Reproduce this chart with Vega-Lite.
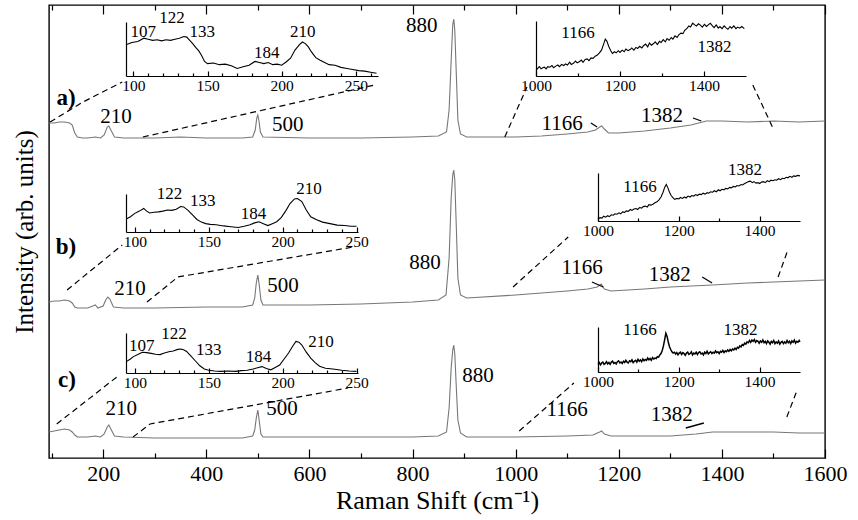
{
"$schema":"https://vega.github.io/schema/vega-lite/v6.json",
"width":776,"height":453,
"autosize":{"type":"none"},
"padding":{"left":49,"top":5,"right":33,"bottom":62},
"background":"white",
"config":{"view":{"stroke":"black","strokeWidth":1.4},"font":"Liberation Serif",
 "axis":{"grid":false,"format":"d","labelFont":"Liberation Serif","titleFont":"Liberation Serif","titleFontWeight":"normal","labelColor":"black","titleColor":"black","tickColor":"black","domainColor":"black","tickWidth":1.2,"domainWidth":1.2}},
"datasets":{
"main":[
{"s":"a","x":95,"y":335},{"s":"a","x":105,"y":335},{"s":"a","x":115,"y":336},{"s":"a","x":125,"y":336},{"s":"a","x":135,"y":335},{"s":"a","x":140,"y":333},{"s":"a","x":145,"y":325},{"s":"a","x":150,"y":321},{"s":"a","x":160,"y":320},{"s":"a","x":170,"y":320},{"s":"a","x":185,"y":321},{"s":"a","x":195,"y":320},{"s":"a","x":202,"y":323},{"s":"a","x":208,"y":331},{"s":"a","x":211,"y":332},{"s":"a","x":215,"y":328},{"s":"a","x":222,"y":321},{"s":"a","x":240,"y":320},{"s":"a","x":300,"y":320},{"s":"a","x":350,"y":321},{"s":"a","x":400,"y":320},{"s":"a","x":470,"y":320},{"s":"a","x":490,"y":321},{"s":"a","x":495,"y":328},{"s":"a","x":498,"y":340},{"s":"a","x":500,"y":343},{"s":"a","x":502,"y":338},{"s":"a","x":505,"y":326},{"s":"a","x":510,"y":321},{"s":"a","x":600,"y":320},{"s":"a","x":700,"y":320},{"s":"a","x":800,"y":321},{"s":"a","x":850,"y":322},{"s":"a","x":866,"y":326},{"s":"a","x":871,"y":348},{"s":"a","x":875,"y":398},{"s":"a","x":878,"y":433},{"s":"a","x":880,"y":439},{"s":"a","x":882,"y":428},{"s":"a","x":885,"y":383},{"s":"a","x":888,"y":338},{"s":"a","x":893,"y":324},{"s":"a","x":905,"y":321},{"s":"a","x":1000,"y":321},{"s":"a","x":1050,"y":322},{"s":"a","x":1100,"y":324},{"s":"a","x":1140,"y":326},{"s":"a","x":1155,"y":328},{"s":"a","x":1163,"y":331},{"s":"a","x":1167,"y":332},{"s":"a","x":1172,"y":329},{"s":"a","x":1180,"y":325},{"s":"a","x":1200,"y":325},{"s":"a","x":1250,"y":327},{"s":"a","x":1300,"y":330},{"s":"a","x":1340,"y":333},{"s":"a","x":1370,"y":337},{"s":"a","x":1400,"y":337},{"s":"a","x":1450,"y":336},{"s":"a","x":1500,"y":337},{"s":"a","x":1550,"y":336},{"s":"a","x":1600,"y":337},
{"s":"b","x":95,"y":156},{"s":"b","x":105,"y":157},{"s":"b","x":115,"y":157},{"s":"b","x":125,"y":158},{"s":"b","x":135,"y":157},{"s":"b","x":140,"y":155},{"s":"b","x":145,"y":151},{"s":"b","x":150,"y":150},{"s":"b","x":170,"y":150},{"s":"b","x":180,"y":152},{"s":"b","x":185,"y":153},{"s":"b","x":190,"y":150},{"s":"b","x":200,"y":152},{"s":"b","x":205,"y":158},{"s":"b","x":209,"y":161},{"s":"b","x":213,"y":159},{"s":"b","x":220,"y":151},{"s":"b","x":240,"y":150},{"s":"b","x":300,"y":150},{"s":"b","x":400,"y":151},{"s":"b","x":470,"y":151},{"s":"b","x":490,"y":153},{"s":"b","x":494,"y":160},{"s":"b","x":497,"y":175},{"s":"b","x":500,"y":183},{"s":"b","x":503,"y":172},{"s":"b","x":506,"y":158},{"s":"b","x":510,"y":153},{"s":"b","x":600,"y":153},{"s":"b","x":700,"y":154},{"s":"b","x":800,"y":156},{"s":"b","x":850,"y":158},{"s":"b","x":865,"y":163},{"s":"b","x":871,"y":200},{"s":"b","x":875,"y":260},{"s":"b","x":878,"y":283},{"s":"b","x":880,"y":288},{"s":"b","x":882,"y":278},{"s":"b","x":885,"y":230},{"s":"b","x":888,"y":180},{"s":"b","x":893,"y":163},{"s":"b","x":905,"y":160},{"s":"b","x":1000,"y":163},{"s":"b","x":1050,"y":165},{"s":"b","x":1100,"y":167},{"s":"b","x":1140,"y":169},{"s":"b","x":1158,"y":171},{"s":"b","x":1166,"y":174},{"s":"b","x":1172,"y":169},{"s":"b","x":1185,"y":167},{"s":"b","x":1250,"y":169},{"s":"b","x":1300,"y":171},{"s":"b","x":1382,"y":173},{"s":"b","x":1450,"y":175},{"s":"b","x":1500,"y":176},{"s":"b","x":1550,"y":177},{"s":"b","x":1600,"y":178},
{"s":"c","x":95,"y":26},{"s":"c","x":105,"y":27},{"s":"c","x":115,"y":28},{"s":"c","x":125,"y":29},{"s":"c","x":135,"y":28},{"s":"c","x":140,"y":26},{"s":"c","x":145,"y":23},{"s":"c","x":150,"y":21},{"s":"c","x":170,"y":21},{"s":"c","x":185,"y":22},{"s":"c","x":195,"y":21},{"s":"c","x":202,"y":24},{"s":"c","x":208,"y":31},{"s":"c","x":211,"y":33},{"s":"c","x":215,"y":29},{"s":"c","x":222,"y":22},{"s":"c","x":240,"y":21},{"s":"c","x":300,"y":20},{"s":"c","x":400,"y":20},{"s":"c","x":470,"y":20},{"s":"c","x":490,"y":22},{"s":"c","x":494,"y":28},{"s":"c","x":497,"y":40},{"s":"c","x":500,"y":48},{"s":"c","x":503,"y":36},{"s":"c","x":506,"y":24},{"s":"c","x":510,"y":21},{"s":"c","x":600,"y":21},{"s":"c","x":700,"y":21},{"s":"c","x":800,"y":21},{"s":"c","x":850,"y":22},{"s":"c","x":866,"y":26},{"s":"c","x":871,"y":50},{"s":"c","x":875,"y":90},{"s":"c","x":878,"y":108},{"s":"c","x":880,"y":113},{"s":"c","x":882,"y":104},{"s":"c","x":885,"y":70},{"s":"c","x":888,"y":38},{"s":"c","x":893,"y":25},{"s":"c","x":905,"y":21},{"s":"c","x":1000,"y":21},{"s":"c","x":1100,"y":22},{"s":"c","x":1150,"y":23},{"s":"c","x":1163,"y":26},{"s":"c","x":1167,"y":27},{"s":"c","x":1172,"y":24},{"s":"c","x":1185,"y":22},{"s":"c","x":1250,"y":22},{"s":"c","x":1300,"y":22},{"s":"c","x":1350,"y":24},{"s":"c","x":1382,"y":26},{"s":"c","x":1450,"y":26},{"s":"c","x":1500,"y":26},{"s":"c","x":1550,"y":25},{"s":"c","x":1600,"y":25}
],
"lab":[
{"x":225,"y":341,"t":"210"},{"x":558,"y":333,"t":"500"},{"x":818,"y":432,"t":"880"},{"x":1090,"y":334,"t":"1166"},{"x":1284,"y":342,"t":"1382"},
{"x":252,"y":169,"t":"210"},{"x":549,"y":172,"t":"500"},{"x":824,"y":195,"t":"880"},{"x":1129,"y":190,"t":"1166"},{"x":1299,"y":183,"t":"1382"},
{"x":235,"y":49,"t":"210"},{"x":547,"y":49,"t":"500"},{"x":927,"y":82,"t":"880"},{"x":1100,"y":48,"t":"1166"},{"x":1303,"y":43,"t":"1382"}
],
"panel":[{"x":128,"y":360,"t":"a)"},{"x":128,"y":211,"t":"b)"},{"x":130,"y":78,"t":"c)"}],
"ann":[
{"x":1146,"y":335,"x2":1158,"y2":331},{"x":1344,"y":340,"x2":1360,"y2":337},
{"x":1148,"y":176,"x2":1170,"y2":171},{"x":1362,"y":181,"x2":1381,"y2":175},
{"x":1330,"y":30,"x2":1365,"y2":35}
],
"dash":[
{"g":"a1","o":1,"x":97,"y":336},{"g":"a1","o":2,"x":161,"y":356},{"g":"a1","o":3,"x":237,"y":376},
{"g":"a2","o":1,"x":277,"y":321},{"g":"a2","o":2,"x":727,"y":373},
{"g":"a3","o":1,"x":979,"y":321},{"g":"a3","o":2,"x":1022,"y":371},
{"g":"a4","o":1,"x":1460,"y":373},{"g":"a4","o":2,"x":1499,"y":330},
{"g":"b1","o":1,"x":130,"y":168},{"g":"b1","o":2,"x":237,"y":213},
{"g":"b2","o":1,"x":285,"y":156},{"g":"b2","o":2,"x":345,"y":181},{"g":"b2","o":3,"x":685,"y":211},
{"g":"b3","o":1,"x":995,"y":171},{"g":"b3","o":2,"x":1102,"y":221},
{"g":"b4","o":1,"x":1509,"y":181},{"g":"b4","o":2,"x":1528,"y":208},
{"g":"c1","o":1,"x":110,"y":34},{"g":"c1","o":2,"x":229,"y":82},
{"g":"c2","o":1,"x":258,"y":21},{"g":"c2","o":2,"x":291,"y":34},{"g":"c2","o":3,"x":675,"y":70},
{"g":"c3","o":1,"x":1007,"y":27},{"g":"c3","o":2,"x":1113,"y":75},
{"g":"c4","o":1,"x":1526,"y":41},{"g":"c4","o":2,"x":1546,"y":68}
],
"ia":[{"x":95,"y":58},{"x":99,"y":62},{"x":103,"y":64},{"x":107,"y":70},{"x":110,"y":68},{"x":113,"y":66},{"x":116,"y":67},{"x":119,"y":65},{"x":122,"y":67},{"x":125,"y":66},{"x":128,"y":68},{"x":131,"y":70},{"x":134,"y":73},{"x":136,"y":72},{"x":138,"y":66},{"x":140,"y":60},{"x":142,"y":53},{"x":144,"y":47},{"x":146,"y":38},{"x":148,"y":27},{"x":150,"y":23},{"x":154,"y":24},{"x":158,"y":21},{"x":162,"y":22},{"x":166,"y":19},{"x":170,"y":14},{"x":174,"y":17},{"x":178,"y":20},{"x":182,"y":27},{"x":185,"y":25},{"x":188,"y":23},{"x":191,"y":25},{"x":194,"y":21},{"x":197,"y":22},{"x":200,"y":20},{"x":203,"y":26},{"x":206,"y":33},{"x":209,"y":48},{"x":212,"y":58},{"x":214,"y":63},{"x":216,"y":60},{"x":218,"y":54},{"x":220,"y":45},{"x":223,"y":34},{"x":226,"y":29},{"x":229,"y":25},{"x":232,"y":21},{"x":236,"y":20},{"x":240,"y":16},{"x":244,"y":14},{"x":248,"y":12},{"x":252,"y":10},{"x":256,"y":9},{"x":260,"y":7},{"x":264,"y":5}],
"ial":[{"x":106.7,"y":82,"t":"107"},{"x":126,"y":107,"t":"122"},{"x":146.4,"y":82,"t":"133"},{"x":190,"y":42,"t":"184"},{"x":214.3,"y":82,"t":"210"}],
"ib":[{"x":94.5,"y":35},{"x":97,"y":40},{"x":100,"y":49},{"x":103,"y":55},{"x":106,"y":62},{"x":108,"y":55},{"x":110,"y":50},{"x":113,"y":52},{"x":116,"y":53},{"x":119,"y":55},{"x":122,"y":58},{"x":125,"y":57},{"x":128,"y":60},{"x":131,"y":67},{"x":133,"y":66},{"x":136,"y":57},{"x":139,"y":45},{"x":142,"y":33},{"x":145,"y":26},{"x":148,"y":22},{"x":151,"y":20},{"x":155,"y":19},{"x":160,"y":16},{"x":165,"y":14},{"x":170,"y":12},{"x":174,"y":15},{"x":178,"y":19},{"x":181,"y":24},{"x":184,"y":27},{"x":187,"y":22},{"x":190,"y":17},{"x":193,"y":22},{"x":196,"y":27},{"x":199,"y":38},{"x":202,"y":55},{"x":205,"y":75},{"x":208,"y":87},{"x":210,"y":88},{"x":213,"y":80},{"x":216,"y":58},{"x":219,"y":40},{"x":223,"y":32},{"x":227,"y":26},{"x":232,"y":22},{"x":237,"y":18},{"x":242,"y":17},{"x":246,"y":15},{"x":250,"y":15}],
"ibl":[{"x":123.5,"y":100,"t":"122"},{"x":146,"y":82,"t":"133"},{"x":180.2,"y":47,"t":"184"},{"x":217.8,"y":112,"t":"210"}],
"ic":[{"x":94.5,"y":29},{"x":97,"y":35},{"x":99,"y":41},{"x":102,"y":46},{"x":105,"y":52},{"x":108,"y":51},{"x":111,"y":49},{"x":114,"y":47},{"x":117,"y":46},{"x":120,"y":50},{"x":123,"y":53},{"x":126,"y":55},{"x":129,"y":59},{"x":131,"y":60},{"x":133,"y":58},{"x":135,"y":54},{"x":138,"y":42},{"x":141,"y":30},{"x":144,"y":18},{"x":147,"y":10},{"x":150,"y":7},{"x":154,"y":5},{"x":158,"y":4},{"x":163,"y":5},{"x":168,"y":4},{"x":172,"y":6},{"x":176,"y":7},{"x":180,"y":10},{"x":183,"y":13},{"x":186,"y":16},{"x":189,"y":11},{"x":192,"y":8},{"x":195,"y":14},{"x":198,"y":20},{"x":201,"y":35},{"x":204,"y":50},{"x":207,"y":68},{"x":209,"y":79},{"x":211,"y":77},{"x":213,"y":70},{"x":216,"y":52},{"x":219,"y":37},{"x":222,"y":26},{"x":225,"y":17},{"x":229,"y":12},{"x":234,"y":10},{"x":240,"y":7},{"x":245,"y":5},{"x":250,"y":4}],
"icl":[{"x":104.6,"y":68,"t":"107"},{"x":126.5,"y":98,"t":"122"},{"x":150,"y":56.5,"t":"133"},{"x":183.6,"y":40,"t":"184"},{"x":226,"y":76.5,"t":"210"}],
"ja":[{"x":1000,"y":10},{"x":1004,"y":14},{"x":1008,"y":17},{"x":1012,"y":13},{"x":1016,"y":15},{"x":1020,"y":16},{"x":1024,"y":13},{"x":1028,"y":17},{"x":1033,"y":16},{"x":1038,"y":19},{"x":1042,"y":15},{"x":1047,"y":18},{"x":1052,"y":20},{"x":1056,"y":17},{"x":1061,"y":21},{"x":1066,"y":19},{"x":1070,"y":22},{"x":1075,"y":20},{"x":1080,"y":25},{"x":1084,"y":21},{"x":1089,"y":23},{"x":1094,"y":27},{"x":1098,"y":24},{"x":1103,"y":26},{"x":1108,"y":29},{"x":1112,"y":25},{"x":1117,"y":30},{"x":1122,"y":31},{"x":1126,"y":28},{"x":1131,"y":33},{"x":1136,"y":32},{"x":1141,"y":36},{"x":1146,"y":38},{"x":1151,"y":42},{"x":1156,"y":47},{"x":1161,"y":58},{"x":1165,"y":67},{"x":1169,"y":63},{"x":1173,"y":54},{"x":1178,"y":46},{"x":1182,"y":41},{"x":1187,"y":44},{"x":1191,"y":42},{"x":1196,"y":46},{"x":1200,"y":43},{"x":1205,"y":47},{"x":1210,"y":44},{"x":1214,"y":49},{"x":1219,"y":46},{"x":1224,"y":48},{"x":1228,"y":51},{"x":1233,"y":47},{"x":1238,"y":52},{"x":1242,"y":50},{"x":1247,"y":54},{"x":1252,"y":51},{"x":1256,"y":55},{"x":1261,"y":58},{"x":1266,"y":53},{"x":1270,"y":60},{"x":1275,"y":56},{"x":1280,"y":59},{"x":1284,"y":62},{"x":1289,"y":57},{"x":1294,"y":63},{"x":1298,"y":61},{"x":1303,"y":66},{"x":1308,"y":62},{"x":1312,"y":68},{"x":1317,"y":65},{"x":1322,"y":70},{"x":1326,"y":67},{"x":1331,"y":73},{"x":1336,"y":70},{"x":1340,"y":75},{"x":1345,"y":78},{"x":1350,"y":77},{"x":1354,"y":83},{"x":1359,"y":86},{"x":1364,"y":91},{"x":1368,"y":89},{"x":1373,"y":96},{"x":1378,"y":93},{"x":1382,"y":91},{"x":1387,"y":95},{"x":1392,"y":92},{"x":1396,"y":89},{"x":1401,"y":94},{"x":1406,"y":90},{"x":1410,"y":93},{"x":1415,"y":96},{"x":1420,"y":91},{"x":1424,"y":88},{"x":1429,"y":93},{"x":1434,"y":87},{"x":1438,"y":90},{"x":1443,"y":86},{"x":1448,"y":91},{"x":1452,"y":88},{"x":1457,"y":85},{"x":1462,"y":90},{"x":1466,"y":87},{"x":1471,"y":91},{"x":1476,"y":86},{"x":1480,"y":89},{"x":1485,"y":87},{"x":1490,"y":90},{"x":1496,"y":86}],
"jal":[{"x":1100,"y":78,"t":"1166"},{"x":1425,"y":53,"t":"1382"}],
"jb":[{"x":1000,"y":4},{"x":1005,"y":7},{"x":1010,"y":6},{"x":1014,"y":10},{"x":1019,"y":8},{"x":1024,"y":11},{"x":1028,"y":9},{"x":1033,"y":13},{"x":1038,"y":12},{"x":1042,"y":15},{"x":1047,"y":14},{"x":1052,"y":17},{"x":1056,"y":15},{"x":1061,"y":19},{"x":1066,"y":18},{"x":1070,"y":21},{"x":1075,"y":20},{"x":1080,"y":24},{"x":1084,"y":22},{"x":1089,"y":25},{"x":1094,"y":26},{"x":1098,"y":24},{"x":1103,"y":28},{"x":1108,"y":27},{"x":1112,"y":30},{"x":1117,"y":31},{"x":1122,"y":29},{"x":1126,"y":34},{"x":1131,"y":33},{"x":1136,"y":35},{"x":1141,"y":38},{"x":1146,"y":40},{"x":1151,"y":44},{"x":1156,"y":50},{"x":1161,"y":60},{"x":1165,"y":70},{"x":1169,"y":76},{"x":1173,"y":69},{"x":1177,"y":60},{"x":1181,"y":53},{"x":1186,"y":48},{"x":1190,"y":45},{"x":1195,"y":47},{"x":1200,"y":46},{"x":1204,"y":49},{"x":1209,"y":47},{"x":1214,"y":50},{"x":1218,"y":48},{"x":1223,"y":52},{"x":1228,"y":50},{"x":1232,"y":53},{"x":1237,"y":52},{"x":1242,"y":55},{"x":1246,"y":53},{"x":1251,"y":56},{"x":1256,"y":55},{"x":1260,"y":58},{"x":1265,"y":56},{"x":1270,"y":59},{"x":1274,"y":58},{"x":1279,"y":61},{"x":1284,"y":60},{"x":1288,"y":63},{"x":1293,"y":61},{"x":1298,"y":65},{"x":1302,"y":63},{"x":1307,"y":66},{"x":1312,"y":65},{"x":1316,"y":68},{"x":1321,"y":67},{"x":1326,"y":70},{"x":1330,"y":69},{"x":1335,"y":72},{"x":1340,"y":71},{"x":1344,"y":74},{"x":1349,"y":73},{"x":1354,"y":76},{"x":1358,"y":75},{"x":1363,"y":78},{"x":1368,"y":80},{"x":1372,"y":82},{"x":1377,"y":83},{"x":1382,"y":80},{"x":1386,"y":82},{"x":1391,"y":79},{"x":1396,"y":80},{"x":1400,"y":78},{"x":1405,"y":81},{"x":1410,"y":82},{"x":1414,"y":80},{"x":1419,"y":84},{"x":1424,"y":82},{"x":1428,"y":85},{"x":1433,"y":84},{"x":1438,"y":86},{"x":1442,"y":85},{"x":1447,"y":88},{"x":1452,"y":86},{"x":1456,"y":89},{"x":1461,"y":88},{"x":1466,"y":91},{"x":1470,"y":90},{"x":1475,"y":93},{"x":1480,"y":91},{"x":1484,"y":94},{"x":1489,"y":93},{"x":1494,"y":95},{"x":1500,"y":94}],
"jbl":[{"x":1104,"y":71,"t":"1166"},{"x":1364,"y":107,"t":"1382"}],
"jc":[{"x":1000,"y":17},{"x":1003,"y":21},{"x":1006,"y":16},{"x":1009,"y":20},{"x":1012,"y":22},{"x":1015,"y":17},{"x":1018,"y":19},{"x":1021,"y":23},{"x":1024,"y":18},{"x":1027,"y":21},{"x":1030,"y":17},{"x":1033,"y":22},{"x":1036,"y":24},{"x":1039,"y":19},{"x":1042,"y":21},{"x":1045,"y":18},{"x":1048,"y":23},{"x":1051,"y":25},{"x":1054,"y":20},{"x":1057,"y":22},{"x":1060,"y":19},{"x":1063,"y":24},{"x":1066,"y":21},{"x":1069,"y":26},{"x":1072,"y":22},{"x":1075,"y":20},{"x":1078,"y":25},{"x":1081,"y":23},{"x":1084,"y":27},{"x":1087,"y":21},{"x":1090,"y":24},{"x":1093,"y":26},{"x":1096,"y":22},{"x":1099,"y":28},{"x":1102,"y":24},{"x":1105,"y":27},{"x":1108,"y":23},{"x":1111,"y":29},{"x":1114,"y":25},{"x":1117,"y":28},{"x":1120,"y":26},{"x":1123,"y":31},{"x":1126,"y":27},{"x":1129,"y":30},{"x":1132,"y":26},{"x":1135,"y":32},{"x":1138,"y":29},{"x":1141,"y":31},{"x":1144,"y":30},{"x":1147,"y":34},{"x":1150,"y":33},{"x":1153,"y":38},{"x":1156,"y":41},{"x":1159,"y":48},{"x":1162,"y":58},{"x":1165,"y":72},{"x":1168,"y":86},{"x":1171,"y":79},{"x":1174,"y":66},{"x":1177,"y":56},{"x":1180,"y":50},{"x":1183,"y":45},{"x":1186,"y":42},{"x":1189,"y":44},{"x":1192,"y":40},{"x":1195,"y":43},{"x":1198,"y":38},{"x":1201,"y":42},{"x":1204,"y":44},{"x":1207,"y":39},{"x":1210,"y":43},{"x":1213,"y":41},{"x":1216,"y":37},{"x":1219,"y":42},{"x":1222,"y":44},{"x":1225,"y":39},{"x":1228,"y":41},{"x":1231,"y":45},{"x":1234,"y":38},{"x":1237,"y":42},{"x":1240,"y":40},{"x":1243,"y":44},{"x":1246,"y":39},{"x":1249,"y":43},{"x":1252,"y":45},{"x":1255,"y":40},{"x":1258,"y":42},{"x":1261,"y":38},{"x":1264,"y":44},{"x":1267,"y":41},{"x":1270,"y":46},{"x":1273,"y":40},{"x":1276,"y":43},{"x":1279,"y":45},{"x":1282,"y":41},{"x":1285,"y":44},{"x":1288,"y":42},{"x":1291,"y":47},{"x":1294,"y":43},{"x":1297,"y":45},{"x":1300,"y":41},{"x":1303,"y":46},{"x":1306,"y":44},{"x":1309,"y":48},{"x":1312,"y":43},{"x":1315,"y":47},{"x":1318,"y":45},{"x":1321,"y":49},{"x":1324,"y":46},{"x":1327,"y":50},{"x":1330,"y":47},{"x":1333,"y":51},{"x":1336,"y":49},{"x":1339,"y":53},{"x":1342,"y":50},{"x":1345,"y":55},{"x":1348,"y":53},{"x":1351,"y":58},{"x":1354,"y":56},{"x":1357,"y":61},{"x":1360,"y":59},{"x":1363,"y":64},{"x":1366,"y":62},{"x":1369,"y":67},{"x":1372,"y":65},{"x":1375,"y":70},{"x":1378,"y":66},{"x":1381,"y":71},{"x":1384,"y":68},{"x":1387,"y":72},{"x":1390,"y":66},{"x":1393,"y":70},{"x":1396,"y":68},{"x":1399,"y":64},{"x":1402,"y":69},{"x":1405,"y":66},{"x":1408,"y":71},{"x":1411,"y":65},{"x":1414,"y":68},{"x":1417,"y":63},{"x":1420,"y":69},{"x":1423,"y":66},{"x":1426,"y":62},{"x":1429,"y":68},{"x":1432,"y":65},{"x":1435,"y":70},{"x":1438,"y":63},{"x":1441,"y":67},{"x":1444,"y":64},{"x":1447,"y":69},{"x":1450,"y":62},{"x":1453,"y":66},{"x":1456,"y":68},{"x":1459,"y":63},{"x":1462,"y":67},{"x":1465,"y":64},{"x":1468,"y":70},{"x":1471,"y":65},{"x":1474,"y":68},{"x":1477,"y":63},{"x":1480,"y":69},{"x":1483,"y":66},{"x":1486,"y":71},{"x":1489,"y":64},{"x":1492,"y":68},{"x":1495,"y":66},{"x":1498,"y":70},{"x":1500,"y":67}],
"jcl":[{"x":1104,"y":93,"t":"1166"},{"x":1353,"y":94,"t":"1382"}]
},
"layer":[
{"encoding":{
  "x":{"field":"x","type":"quantitative","scale":{"domain":[95,1600],"nice":false,"zero":false},"axis":{"orient":"bottom","values":[200,400,600,800,1000,1200,1400,1600],"tickSize":-9,"labelPadding":14,"labelFontSize":22,"labelFlush":false,"domain":false,"title":"Raman Shift (cm⁻¹)","titleFontSize":26,"titlePadding":3}},
  "y":{"field":"y","type":"quantitative","scale":{"domain":[0,453],"nice":false,"zero":false},"axis":{"orient":"left","title":"Intensity (arb. units)","titleFontSize":25,"titlePadding":12,"ticks":false,"labels":false,"domain":false}}},
 "layer":[
  {"data":{"name":"main"},"mark":{"type":"line","color":"#777777","strokeWidth":1.1},"encoding":{"detail":{"field":"s"}}},
  {"data":{"name":"dash"},"mark":{"type":"line","color":"black","strokeWidth":1.2,"strokeDash":[6,4]},"encoding":{"detail":{"field":"g"},"order":{"field":"o"}}},
  {"data":{"name":"ann"},"mark":{"type":"rule","color":"black","strokeWidth":1.3},"encoding":{"x2":{"field":"x2"},"y2":{"field":"y2"}}},
  {"data":{"name":"lab"},"mark":{"type":"text","font":"Liberation Serif","fontSize":21,"color":"black"},"encoding":{"text":{"field":"t"}}},
  {"data":{"name":"panel"},"mark":{"type":"text","font":"Liberation Serif","fontSize":23,"fontWeight":"bold","color":"black"},"encoding":{"text":{"field":"t"}}}
 ]},
{"data":{"name":"main"},"mark":{"type":"point","opacity":0},"encoding":{"x":{"field":"x","type":"quantitative","scale":{"domain":[95,1600],"nice":false,"zero":false},"axis":{"orient":"top","values":[200,400,600,800,1000,1200,1400,1600],"tickSize":-9,"labels":false,"domain":false,"title":null}}}},
{"data":{"name":"main"},"mark":{"type":"point","opacity":0},"encoding":{"x":{"field":"x","type":"quantitative","scale":{"domain":[95,1600],"nice":false,"zero":false},"axis":{"orient":"bottom","values":[100,300,500,700,900,1100,1300,1500],"tickSize":-5,"labels":false,"domain":false,"title":null}}}},
{"data":{"name":"main"},"mark":{"type":"point","opacity":0},"encoding":{"x":{"field":"x","type":"quantitative","scale":{"domain":[95,1600],"nice":false,"zero":false},"axis":{"orient":"top","values":[100,300,500,700,900,1100,1300,1500],"tickSize":-5,"labels":false,"domain":false,"title":null}}}},

{"encoding":{
  "x":{"field":"x","type":"quantitative","scale":{"domain":[95,265],"range":[77,329],"nice":false,"zero":false},"axis":{"orient":"bottom","offset":-382,"values":[100,150,200,250],"tickSize":-5,"labelPadding":7,"labelFontSize":15.5,"labelFlush":false,"title":null}},
  "y":{"field":"y","type":"quantitative","scale":{"domain":[0,100],"range":[71,17],"nice":false,"zero":false},"axis":{"orient":"left","offset":-77,"ticks":false,"labels":false,"title":null}}},
 "layer":[
  {"data":{"name":"ia"},"mark":{"type":"line","color":"black","strokeWidth":1.1}},
  {"data":{"name":"ial"},"mark":{"type":"text","font":"Liberation Serif","fontSize":17,"color":"black"},"encoding":{"text":{"field":"t"}}}
 ]},
{"data":{"name":"ia"},"mark":{"type":"point","opacity":0},"encoding":{"x":{"field":"x","type":"quantitative","scale":{"domain":[95,265],"range":[77,329],"nice":false,"zero":false},"axis":{"orient":"bottom","offset":-382,"values":[110,120,130,140,160,170,180,190,210,220,230,240,260],"tickSize":-3,"labels":false,"domain":false,"title":null}}}},

{"encoding":{
  "x":{"field":"x","type":"quantitative","scale":{"domain":[1000,1500],"range":[487,697],"nice":false,"zero":false},"axis":{"orient":"bottom","offset":-382,"values":[1000,1200,1400],"tickSize":-5,"labelPadding":7,"labelFontSize":15.5,"labelFlush":false,"title":null}},
  "y":{"field":"y","type":"quantitative","scale":{"domain":[0,100],"range":[71,16],"nice":false,"zero":false},"axis":{"orient":"left","offset":-487,"ticks":false,"labels":false,"title":null}}},
 "layer":[
  {"data":{"name":"ja"},"mark":{"type":"line","color":"black","strokeWidth":1.1}},
  {"data":{"name":"jal"},"mark":{"type":"text","font":"Liberation Serif","fontSize":17,"color":"black"},"encoding":{"text":{"field":"t"}}}
 ]},
{"data":{"name":"ja"},"mark":{"type":"point","opacity":0},"encoding":{"x":{"field":"x","type":"quantitative","scale":{"domain":[1000,1500],"range":[487,697],"nice":false,"zero":false},"axis":{"orient":"bottom","offset":-382,"values":[1100,1300],"tickSize":-3,"labels":false,"domain":false,"title":null}}}},

{"encoding":{
  "x":{"field":"x","type":"quantitative","scale":{"domain":[94,251],"range":[77,309],"nice":false,"zero":false},"axis":{"orient":"bottom","offset":-226,"values":[100,150,200,250],"tickSize":-5,"labelPadding":7,"labelFontSize":15.5,"labelFlush":false,"title":null}},
  "y":{"field":"y","type":"quantitative","scale":{"domain":[0,100],"range":[227,189],"nice":false,"zero":false},"axis":{"orient":"left","offset":-77,"ticks":false,"labels":false,"title":null}}},
 "layer":[
  {"data":{"name":"ib"},"mark":{"type":"line","color":"black","strokeWidth":1.1}},
  {"data":{"name":"ibl"},"mark":{"type":"text","font":"Liberation Serif","fontSize":17,"color":"black"},"encoding":{"text":{"field":"t"}}}
 ]},
{"data":{"name":"ib"},"mark":{"type":"point","opacity":0},"encoding":{"x":{"field":"x","type":"quantitative","scale":{"domain":[94,251],"range":[77,309],"nice":false,"zero":false},"axis":{"orient":"bottom","offset":-226,"values":[110,120,130,140,160,170,180,190,210,220,230,240],"tickSize":-3,"labels":false,"domain":false,"title":null}}}},

{"encoding":{
  "x":{"field":"x","type":"quantitative","scale":{"domain":[1000,1500],"range":[549,751],"nice":false,"zero":false},"axis":{"orient":"bottom","offset":-237,"values":[1000,1200,1400],"tickSize":-5,"labelPadding":7,"labelFontSize":15.5,"labelFlush":false,"title":null}},
  "y":{"field":"y","type":"quantitative","scale":{"domain":[0,100],"range":[216,168],"nice":false,"zero":false},"axis":{"orient":"left","offset":-549,"ticks":false,"labels":false,"title":null}}},
 "layer":[
  {"data":{"name":"jb"},"mark":{"type":"line","color":"black","strokeWidth":1.1}},
  {"data":{"name":"jbl"},"mark":{"type":"text","font":"Liberation Serif","fontSize":17,"color":"black"},"encoding":{"text":{"field":"t"}}}
 ]},
{"data":{"name":"jb"},"mark":{"type":"point","opacity":0},"encoding":{"x":{"field":"x","type":"quantitative","scale":{"domain":[1000,1500],"range":[549,751],"nice":false,"zero":false},"axis":{"orient":"bottom","offset":-237,"values":[1100,1300],"tickSize":-3,"labels":false,"domain":false,"title":null}}}},

{"encoding":{
  "x":{"field":"x","type":"quantitative","scale":{"domain":[94,251],"range":[77,309],"nice":false,"zero":false},"axis":{"orient":"bottom","offset":-85,"values":[100,150,200,250],"tickSize":-5,"labelPadding":7,"labelFontSize":15.5,"labelFlush":false,"title":null}},
  "y":{"field":"y","type":"quantitative","scale":{"domain":[0,100],"range":[368,328],"nice":false,"zero":false},"axis":{"orient":"left","offset":-77,"ticks":false,"labels":false,"title":null}}},
 "layer":[
  {"data":{"name":"ic"},"mark":{"type":"line","color":"black","strokeWidth":1.1}},
  {"data":{"name":"icl"},"mark":{"type":"text","font":"Liberation Serif","fontSize":17,"color":"black"},"encoding":{"text":{"field":"t"}}}
 ]},
{"data":{"name":"ic"},"mark":{"type":"point","opacity":0},"encoding":{"x":{"field":"x","type":"quantitative","scale":{"domain":[94,251],"range":[77,309],"nice":false,"zero":false},"axis":{"orient":"bottom","offset":-85,"values":[110,120,130,140,160,170,180,190,210,220,230,240],"tickSize":-3,"labels":false,"domain":false,"title":null}}}},

{"encoding":{
  "x":{"field":"x","type":"quantitative","scale":{"domain":[1000,1500],"range":[549,751],"nice":false,"zero":false},"axis":{"orient":"bottom","offset":-86,"values":[1000,1200,1400],"tickSize":-5,"labelPadding":7,"labelFontSize":15.5,"labelFlush":false,"title":null}},
  "y":{"field":"y","type":"quantitative","scale":{"domain":[0,100],"range":[367,322],"nice":false,"zero":false},"axis":{"orient":"left","offset":-549,"ticks":false,"labels":false,"title":null}}},
 "layer":[
  {"data":{"name":"jc"},"mark":{"type":"line","color":"black","strokeWidth":1.5}},
  {"data":{"name":"jcl"},"mark":{"type":"text","font":"Liberation Serif","fontSize":17,"color":"black"},"encoding":{"text":{"field":"t"}}}
 ]},
{"data":{"name":"jc"},"mark":{"type":"point","opacity":0},"encoding":{"x":{"field":"x","type":"quantitative","scale":{"domain":[1000,1500],"range":[549,751],"nice":false,"zero":false},"axis":{"orient":"bottom","offset":-86,"values":[1100,1300],"tickSize":-3,"labels":false,"domain":false,"title":null}}}}
],
"resolve":{"scale":{"x":"independent","y":"independent"},"axis":{"x":"independent","y":"independent"}}
}
